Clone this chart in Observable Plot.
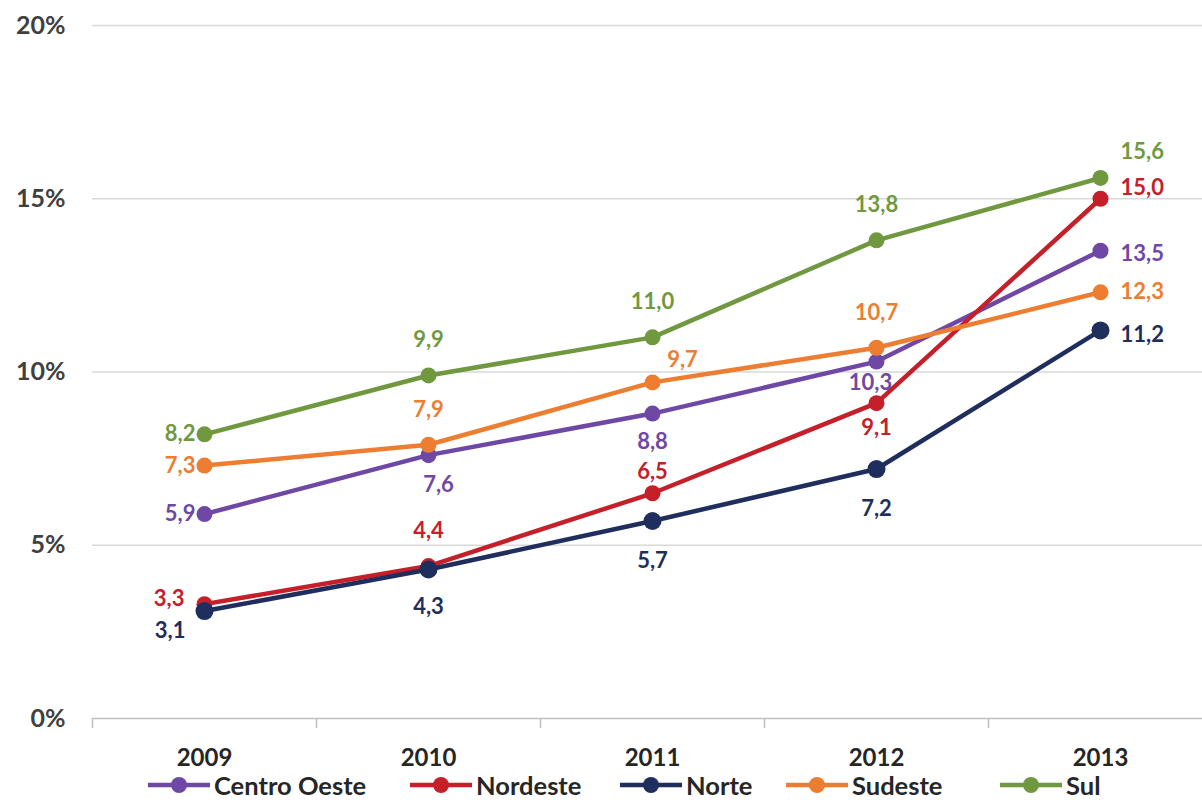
<!DOCTYPE html>
<html>
<head>
<meta charset="utf-8">
<script src="https://cdn.jsdelivr.net/npm/d3@7"></script>
<script src="https://cdn.jsdelivr.net/npm/@observablehq/plot@0.6"></script>
<style>
  html, body { margin: 0; padding: 0; background: white; }
  body { width: 1202px; height: 802px; overflow: hidden; font-family: Lato, "Open Sans", sans-serif; }
  #legend { position: relative; height: 34px; font-size: 25.5px; font-weight: 700; color: #262626; }
  .item { position: absolute; top: 7px; height: 24px; line-height: 24px; display: flex; align-items: center; white-space: nowrap; }
  .item svg { margin-right: 4px; }
</style>
</head>
<body>
<div id="chart"></div>
<div id="legend"></div>
<script>
// ---- data ----
const years = [2009, 2010, 2011, 2012, 2013];
const seriesNames = ["Centro Oeste", "Nordeste", "Norte", "Sudeste", "Sul"];
const centroOeste = [5.9, 7.6, 8.8, 10.3, 13.5];
const nordeste = [3.3, 4.4, 6.5, 9.1, 15.0];
const norte = [3.1, 4.3, 5.7, 7.2, 11.2];
const sudeste = [7.3, 7.9, 9.7, 10.7, 12.3];
const sul = [8.2, 9.9, 11.0, 13.8, 15.6];
const yTicks = [0, 5, 10, 15, 20];

// ---- styling / layout ----
const seriesValues = [centroOeste, nordeste, norte, sudeste, sul];
const colors = ["#6F48A6", "#C5202A", "#1F2E5C", "#ED7D31", "#70993F"];
const legendLeft = [148, 410, 620, 786, 1000];
// label offsets per point: [dx, dy, textAnchor]
const labelLayout = [
  [[-9, 0, "end"], [10, 30, "middle"], [0, 28, "middle"], [-6, 21, "middle"], [20, 3, "start"]],
  [[-20, -5, "end"], [0, -35, "middle"], [0, -21, "middle"], [0, 25, "middle"], [20, -11, "start"]],
  [[-19, 20, "end"], [0, 37, "middle"], [0, 40, "middle"], [0, 40, "middle"], [20, 5, "start"]],
  [[-9, 0, "end"], [0, -35, "middle"], [30, -22, "middle"], [0, -35, "middle"], [20, 0, "start"]],
  [[-9, 0, "end"], [0, -36, "middle"], [0, -35, "middle"], [0, -35, "middle"], [20, -26, "start"]]
];

const rows = [];
seriesNames.forEach((s, i) => years.forEach((yr, j) => rows.push({series: s, si: i, yi: j, year: yr, value: seriesValues[i][j]})));
const fmt = v => v.toFixed(1).replace(".", ",");
const boundaries = years.map(y => y - 0.5).concat([years[years.length - 1] + 0.5]);

const marks = [
  Plot.gridY(yTicks.filter(t => t > 0), {stroke: "#d9d9d9", strokeOpacity: 1, strokeWidth: 1.5}),
  Plot.ruleY([0], {stroke: "#bfbfbf", strokeWidth: 1.5}),
  Plot.axisX({ticks: boundaries, tickSize: 10, tickFormat: () => "", label: null, stroke: "#bfbfbf", strokeWidth: 1.5}),
  Plot.axisX({ticks: years, tickSize: 0, tickPadding: 30, label: null, tickFormat: d => String(d), fontSize: 24, fontWeight: 700, fill: "#262626"}),
  Plot.axisY({ticks: yTicks, tickSize: 0, tickPadding: 27, label: null, tickFormat: d => d + "%", fontSize: 25, fontWeight: 700, fill: "#404040"})
];

seriesNames.forEach((s, i) => {
  const data = rows.filter(r => r.si === i);
  marks.push(Plot.line(data, {x: "year", y: "value", stroke: colors[i], strokeWidth: 4.5}));
  marks.push(Plot.dot(data, {x: "year", y: "value", r: i === 2 ? 9 : 8, fill: colors[i], stroke: null}));
});
seriesNames.forEach((s, i) => {
  rows.filter(r => r.si === i).forEach(r => {
    const [dx, dy, anchor] = labelLayout[i][r.yi];
    marks.push(Plot.text([r], {x: "year", y: "value", text: d => fmt(d.value), dx, dy, textAnchor: anchor, fill: colors[i], fontSize: 22, fontWeight: 700}));
  });
});

const chart = Plot.plot({
  width: 1202, height: 766,
  marginLeft: 92, marginRight: 0, marginTop: 25, marginBottom: 48,
  x: {type: "linear", domain: [2008.5, 2013.5], range: [92, 1212], label: null},
  y: {domain: [0, 20], range: [718, 25], label: null},
  style: {fontFamily: "Lato, 'Open Sans', sans-serif", background: "white", overflow: "visible"},
  marks
});
document.getElementById("chart").appendChild(chart);

// legend
const legend = document.getElementById("legend");
seriesNames.forEach((s, i) => {
  const item = document.createElement("div");
  item.className = "item";
  item.style.left = legendLeft[i] + "px";
  item.innerHTML = `<svg width="62" height="20"><line x1="0" x2="62" y1="10" y2="10" stroke="${colors[i]}" stroke-width="4.5"/><circle cx="31" cy="10" r="8" fill="${colors[i]}"/></svg><span>${s}</span>`;
  legend.appendChild(item);
});
</script>
</body>
</html>
